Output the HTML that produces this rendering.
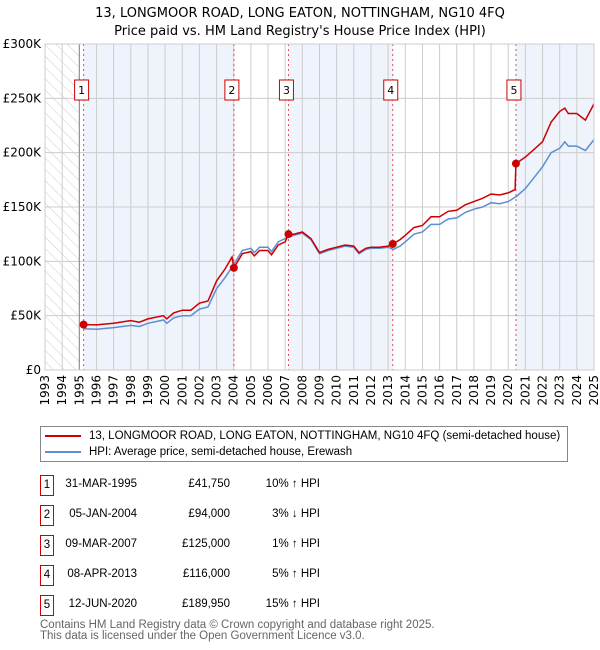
<!DOCTYPE html>
<html><head><meta charset="utf-8"><style>
body{margin:0;background:#fff;font-family:"Liberation Sans","DejaVu Sans",sans-serif;}
#wrap{position:relative;width:600px;height:650px;overflow:hidden}
.t{position:absolute;font-size:12px;color:#000;white-space:nowrap}
</style></head><body><div id="wrap">
<svg id="chart" width="600" height="420" style="position:absolute;left:0;top:0">
<defs><pattern id="hatch" width="8" height="8" patternUnits="userSpaceOnUse" patternTransform="rotate(-45)"><line x1="0" y1="0" x2="0" y2="8" stroke="#ccc" stroke-width="1"/></pattern></defs>
<text x="300" y="17" text-anchor="middle" font-size="13" font-family="DejaVu Sans,sans-serif">13, LONGMOOR ROAD, LONG EATON, NOTTINGHAM, NG10 4FQ</text>
<text x="300" y="35" text-anchor="middle" font-size="13" font-family="DejaVu Sans,sans-serif">Price paid vs. HM Land Registry's House Price Index (HPI)</text>
<g id="bg"></g><g id="grid"></g><g id="lines"></g><g id="marks"></g><g id="axes"></g>
</svg>
<div style="position:absolute;left:40px;top:426px;width:526px;height:34px;border:1px solid #888;font-family:'Liberation Sans',sans-serif;font-size:11.5px;white-space:nowrap">
<div style="position:absolute;left:4px;top:3px"><span style="display:inline-block;width:36px;height:2px;background:#cc0000;vertical-align:middle;margin-right:8px"></span>13, LONGMOOR ROAD, LONG EATON, NOTTINGHAM, NG10 4FQ (semi-detached house)</div>
<div style="position:absolute;left:4px;top:19px"><span style="display:inline-block;width:36px;height:2px;background:#5b8fd4;vertical-align:middle;margin-right:8px"></span>HPI: Average price, semi-detached house, Erewash</div>
</div>
<div id="table"></div>
<div class="t" style="left:40px;top:620px;color:#666;font-size:11.5px;line-height:11px;font-family:'Liberation Sans',sans-serif">Contains HM Land Registry data © Crown copyright and database right 2025.<br>This data is licensed under the Open Government Licence v3.0.</div>
</div>
<script>
const hpiYears=[1995.25,1996,1997,1998,1998.5,1999,1999.9,2000.1,2000.5,2001,2001.5,2002,2002.5,2003,2003.5,2004,2004.5,2005,2005.2,2005.5,2006,2006.2,2006.6,2007,2007.5,2008,2008.5,2009,2009.5,2010,2010.5,2011,2011.3,2011.7,2012,2012.5,2013,2013.3,2013.7,2014,2014.5,2015,2015.5,2016,2016.5,2017,2017.5,2018,2018.5,2019,2019.5,2020,2020.5,2021,2021.5,2022,2022.5,2023,2023.3,2023.5,2024,2024.5,2025];
const hpiValues=[38000,37500,39000,41000,40000,43000,46000,43000,48000,50000,50000,56000,58000,75000,85000,97000,110000,112000,108000,113000,113000,109000,118000,121000,124000,126000,120000,107000,110000,112000,114000,113000,107000,111000,112000,112000,113000,111000,114000,118000,125000,127000,134000,134000,139000,140000,145000,148000,150000,154000,153000,155000,160000,167000,177000,187000,200000,204000,210000,206000,206000,202000,212000];
const priceYears=[1995.25,1996,1997,1998,1998.5,1999,1999.9,2000.1,2000.5,2001,2001.5,2002,2002.5,2003,2003.5,2003.9,2004.01,2004.5,2005,2005.2,2005.5,2006,2006.2,2006.6,2007,2007.19,2007.5,2008,2008.5,2009,2009.5,2010,2010.5,2011,2011.3,2011.7,2012,2012.5,2013,2013.27,2013.7,2014,2014.5,2015,2015.5,2016,2016.5,2017,2017.5,2018,2018.5,2019,2019.5,2020,2020.4,2020.45,2021,2021.5,2022,2022.5,2023,2023.3,2023.5,2024,2024.5,2025];
const priceValues=[41750,41500,43000,45500,44000,47000,50000,47000,52500,55000,55000,61500,63500,82000,93000,104000,94000,107000,109000,105000,110000,110000,106000,115000,118000,125000,125000,127000,121000,108000,111000,113000,115000,114000,108000,112000,113000,113000,114000,116000,120000,124000,131000,133000,141000,141000,146000,147000,152000,155000,158000,162000,161000,163000,166000,189950,196000,203000,210000,228000,238000,241000,236000,236000,230000,245000];
const saleLabels=["1","2","3","4","5"];
const saleYears=[1995.25,2004.01,2007.19,2013.27,2020.45];
const salePrices=[41750,94000,125000,116000,189950];
const saleDates=["31-MAR-1995","05-JAN-2004","09-MAR-2007","08-APR-2013","12-JUN-2020"];
const salePriceText=["£41,750","£94,000","£125,000","£116,000","£189,950"];
const saleHpiText=["10% ↑ HPI","3% ↓ HPI","1% ↑ HPI","5% ↑ HPI","15% ↑ HPI"];
const yTicks=[0,50000,100000,150000,200000,250000,300000];
const yTickLabels=["£0","£50K","£100K","£150K","£200K","£250K","£300K"];
const xTicks=[1993,1994,1995,1996,1997,1998,1999,2000,2001,2002,2003,2004,2005,2006,2007,2008,2009,2010,2011,2012,2013,2014,2015,2016,2017,2018,2019,2020,2021,2022,2023,2024,2025];

const X0=45,X1=594,Y0=370,Y1=44;
const sx=y=>X0+(y-1993)/(2025-1993)*(X1-X0);
const sy=v=>Y0-v/300000*(Y0-Y1);
const NS="http://www.w3.org/2000/svg";
function mk(tag,attrs,parent){const e=document.createElementNS(NS,tag);for(const k in attrs)e.setAttribute(k,attrs[k]);document.getElementById(parent).appendChild(e);return e;}
const bands=[[saleYears[0],saleYears[1]],[saleYears[2],saleYears[3]],[saleYears[4],2025]];
bands.forEach(b=>{const r=mk('rect',{x:sx(b[0]),y:Y1,width:sx(b[1])-sx(b[0]),height:Y0-Y1,fill:'#eef3fc'},'bg');

});
const h=mk('rect',{x:X0,y:Y1,width:sx(1995)-X0,height:Y0-Y1,fill:'url(#hatch)'},'bg');


xTicks.forEach(t=>{const l=mk('line',{x1:sx(t),x2:sx(t),y1:Y1,y2:Y0,stroke:'#ccc','stroke-width':1},'grid');


const tx=mk('text',{x:0,y:0,'font-size':12,'text-anchor':'end','font-family':'DejaVu Sans,sans-serif',transform:`translate(${sx(t)+4},375) rotate(-90)`},'axes');tx.textContent=t;

});
yTicks.forEach((t,i)=>{const l=mk('line',{x1:X0,x2:X1,y1:sy(t),y2:sy(t),stroke:'#ccc','stroke-width':1},'grid');


const tx=mk('text',{x:41,y:sy(t)+4,'font-size':12,'text-anchor':'end','font-family':'DejaVu Sans,sans-serif'},'axes');tx.textContent=yTickLabels[i];

});
const fr=mk('rect',{x:X0,y:Y1,width:X1-X0,height:Y0-Y1,fill:'none',stroke:'#ccc'},'axes');


const ax=mk('line',{x1:sx(1995),x2:sx(1995),y1:Y1,y2:Y0,stroke:'#888'},'grid');


saleYears.forEach((y,i)=>{const l=mk('line',{x1:sx(y),x2:sx(y),y1:Y1,y2:Y0,stroke:'#e05050','stroke-dasharray':'2,3','stroke-width':1},'grid');


const bx=sx(y)-9;
const r=mk('rect',{x:bx,y:80,width:14,height:20,fill:'#fff',stroke:'#cc0000'},'marks');


const t=mk('text',{x:bx+7,y:94,'font-size':11,'text-anchor':'middle','font-family':'DejaVu Sans,sans-serif'},'marks');t.textContent=saleLabels[i];

});
const pts=(xs,vs)=>xs.map((x,i)=>sx(x).toFixed(1)+','+sy(vs[i]).toFixed(1)).join(' ');
const hl=mk('polyline',{points:pts(hpiYears,hpiValues),fill:'none',stroke:'#5b8fd4','stroke-width':1.5},'lines');


const pl=mk('polyline',{points:pts(priceYears,priceValues),fill:'none',stroke:'#cc0000','stroke-width':1.5},'lines');


saleYears.forEach((y,i)=>{const c=mk('circle',{cx:sx(y),cy:sy(salePrices[i]),r:4,fill:'#cc0000'},'marks');

});
const tb=document.getElementById('table');
saleLabels.forEach((s,i)=>{const top=475+i*30;
const row=document.createElement('div');


row.style.cssText=`position:absolute;left:0;top:${top}px;width:600px;height:22px;font-family:'Liberation Sans',sans-serif;font-size:11.5px;white-space:nowrap`;
row.innerHTML=`<div style="position:absolute;left:40px;top:0;width:12px;height:19px;border:1px solid #cc0000;text-align:center;line-height:19px">${s}</div>`+
`<div style="position:absolute;left:37px;width:100px;text-align:right;top:3px">${saleDates[i]}</div>`+
`<div style="position:absolute;left:150px;width:80px;text-align:right;top:3px">${salePriceText[i]}</div>`+
`<div style="position:absolute;left:240px;width:80px;text-align:right;top:3px">${saleHpiText[i]}</div>`;
tb.appendChild(row);});
</script>
</body></html>
